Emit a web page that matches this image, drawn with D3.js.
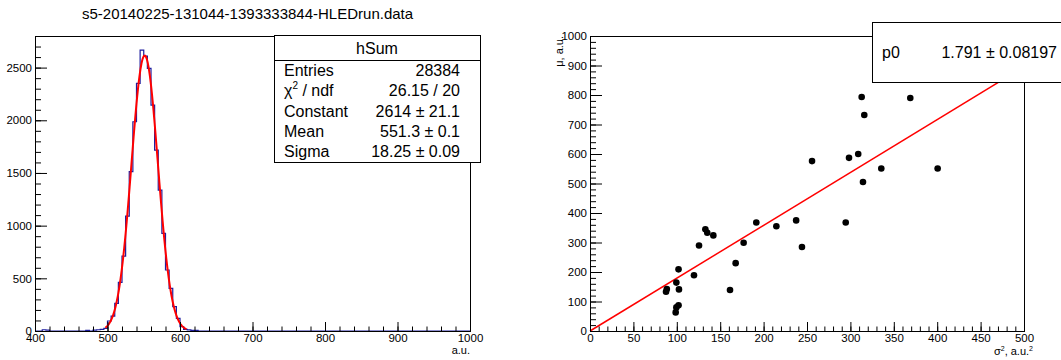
<!DOCTYPE html>
<html><head><meta charset="utf-8">
<script src="https://cdn.jsdelivr.net/npm/d3@7"></script>
<style>
body{margin:0;background:#fff}
svg{display:block}
text{font-family:"Liberation Sans",Arial,Helvetica,sans-serif}
</style>
</head><body>
<svg id="c" width="1061" height="360"></svg>
<script>
// ---------- data ----------
const histTitle = "s5-20140225-131044-1393333844-HLEDrun.data";
const histName = "hSum";
const binLow = 400;
const binWidth = 5;
const counts = [
  0,0,12,8,0,0,0,0,0,0, 0,0,0,0,5,0,8,12,15,25,
  95,142,262,462,711,1091,1512,1986,2350,2666,
  2609,2492,2144,1717,1338,927,579,405,231,120,
  41,16,10,6,5,0,0,0,0,0, 0,0,0,0,0,0,0,0,0,0,
  0,0,0,0,0,0,0,0,0,0, 0,0,0,0,0,0,0,0,0,0,
  0,0,0,0,0,0,0,0,0,0, 0,0,0,0,0,0,0,0,0,0,
  0,0,0,0,0,0,0,0,0,0, 0,0,0,0,0,0,0,0,0,0
];
const fitConstant = 2614, fitMean = 551.3, fitSigma = 18.25;
const fitRange = [497, 609];
const statsLabels = ["Entries", "chi2", "Constant", "Mean", "Sigma"];
const statsValues = ["28384", "26.15 / 20", "2614 \u00b1 21.1", "551.3 \u00b1 0.1", "18.25 \u00b1 0.09"];
const histXTicks = [400, 500, 600, 700, 800, 900, 1000];
const histYTicks = [0, 500, 1000, 1500, 2000, 2500];

const sigma2 = [87.6, 88.5, 98.7, 99.5, 102.0, 99.5, 102.5, 102.0, 119.8, 125.6,
                132.9, 135.1, 142.1, 161.3, 167.8, 177.0, 191.6, 214.7, 237.5, 244.2,
                255.8, 294.6, 298.4, 309.0, 313.0, 316.0, 314.5, 335.6, 369.0, 400.5];
const mu =     [133, 142, 63, 80, 87, 164, 141, 209, 189, 290,
                345, 333, 324, 139, 230, 299, 368, 355, 375, 285,
                576, 368, 587, 600, 793, 732, 505, 551, 790, 551];
const slopeP0 = 1.791;
const slopeText = "1.791 \u00b1 0.08197";
const scatXTicks = [0, 50, 100, 150, 200, 250, 300, 350, 400, 450, 500];
const scatYTicks = [0, 100, 200, 300, 400, 500, 600, 700, 800, 900, 1000];

// ---------- drawing ----------
const svg = d3.select("#c");
svg.append("rect").attr("width",1061).attr("height",360).attr("fill","#fff");
const FONT = "11.5px";

function drawAxes(x, y, xMaj, xMin, yMaj, yMin) {
  const x0 = x.range()[0], y0 = y.range()[0];
  const gx = svg.append("g").attr("transform", `translate(0,${y0})`)
    .call(d3.axisBottom(x).tickValues(xMaj).tickSizeInner(-9).tickSizeOuter(0).tickPadding(3).tickFormat(d3.format("d")));
  const gxm = svg.append("g").attr("transform", `translate(0,${y0})`)
    .call(d3.axisBottom(x).tickValues(xMin).tickSizeInner(-4.5).tickSizeOuter(0).tickFormat(""));
  const gy = svg.append("g").attr("transform", `translate(${x0},0)`)
    .call(d3.axisLeft(y).tickValues(yMaj).tickSizeInner(-12).tickSizeOuter(0).tickPadding(3).tickFormat(d3.format("d")));
  const gym = svg.append("g").attr("transform", `translate(${x0},0)`)
    .call(d3.axisLeft(y).tickValues(yMin).tickSizeInner(-6).tickSizeOuter(0).tickFormat(""));
  [gx, gxm, gy, gym].forEach(g => {
    g.select(".domain").remove();
    g.selectAll("line").attr("stroke", "#000");
    g.selectAll("text").attr("fill", "#000").style("font-size", FONT)
      .style("font-family", '"Liberation Sans",Arial,sans-serif');
  });
}
function frame(x, y) {
  const [a, b] = x.range(), [c, d] = y.range();
  svg.append("rect").attr("x", a + 0.5).attr("y", d + 0.5)
    .attr("width", b - a).attr("height", c - d)
    .attr("fill", "none").attr("stroke", "#000").attr("stroke-width", 1);
}

// ===== Left: histogram =====
const hx = d3.scaleLinear().domain([400, 1000]).range([35, 470]);
const hy = d3.scaleLinear().domain([0, 2800]).range([331, 36]);

svg.append("text").attr("x", 82).attr("y", 19).style("font-size", "15px").attr("fill", "#000").text(histTitle);

const minorRange = (a, b, s) => d3.range(a, b + 1e-9, s);
const histPts = counts.map((c, i) => [binLow + i * binWidth, c]);
histPts.push([binLow + counts.length * binWidth, counts[counts.length - 1]]);
svg.append("path")
  .attr("d", d3.line().x(d => hx(d[0])).y(d => hy(d[1])).curve(d3.curveStepAfter)(histPts))
  .attr("fill", "none").attr("stroke", "#1c1c9e").attr("stroke-width", 1.2);

const fitXs = d3.range(fitRange[0], fitRange[1] + 0.01, 0.5);
svg.append("path")
  .attr("d", d3.line().x(v => hx(v)).y(v => hy(fitConstant * Math.exp(-0.5 * ((v - fitMean) / fitSigma) ** 2)))(fitXs))
  .attr("fill", "none").attr("stroke", "#ff0000").attr("stroke-width", 2);

drawAxes(hx, hy, histXTicks, minorRange(400, 1000, 20), histYTicks, minorRange(0, 2800, 100));
frame(hx, hy);
svg.append("text").attr("x", 470).attr("y", 354).attr("text-anchor", "end")
  .style("font-size", "11px").attr("fill", "#000").text("a.u.");

// stats box
const sb = {x: 274, y: 35, w: 206, h: 127, head: 25};
svg.append("rect").attr("x", sb.x + 0.5).attr("y", sb.y + 0.5).attr("width", sb.w).attr("height", sb.h)
  .attr("fill", "#fff").attr("stroke", "#000");
svg.append("line").attr("x1", sb.x).attr("x2", sb.x + sb.w).attr("y1", sb.y + sb.head + 0.5).attr("y2", sb.y + sb.head + 0.5).attr("stroke", "#000");
svg.append("text").attr("x", sb.x + 103).attr("y", sb.y + 19).attr("text-anchor", "middle")
  .style("font-size", "16px").attr("fill", "#000").text(histName);
const rowH = (sb.h - sb.head) / statsLabels.length;
statsLabels.forEach((lab, i) => {
  const yy = sb.y + sb.head + rowH * (i + 0.5) + 5.5;
  const t = svg.append("text").attr("x", sb.x + 10).attr("y", yy).style("font-size", "16px").attr("fill", "#000");
  if (lab === "chi2") {
    t.append("tspan").text("\u03c7");
    t.append("tspan").attr("dy", -7).style("font-size", "10px").text("2");
    t.append("tspan").attr("dy", 7).text(" / ndf");
  } else t.text(lab);
  svg.append("text").attr("x", sb.x + 186).attr("y", yy).attr("text-anchor", "end")
    .style("font-size", "16px").attr("fill", "#000").text(statsValues[i]);
});

// ===== Right: scatter =====
const sx = d3.scaleLinear().domain([0, 500]).range([590, 1024]);
const sy = d3.scaleLinear().domain([0, 1000]).range([331, 36]);

svg.append("line")
  .attr("x1", sx(0)).attr("y1", sy(0)).attr("x2", sx(500)).attr("y2", sy(slopeP0 * 500))
  .attr("stroke", "#ff0000").attr("stroke-width", 1.5);
svg.append("g").selectAll("circle").data(sigma2).join("circle")
  .attr("cx", (d) => sx(d)).attr("cy", (d, i) => sy(mu[i])).attr("r", 3.3).attr("fill", "#000");

drawAxes(sx, sy, scatXTicks, minorRange(0, 500, 10), scatYTicks, minorRange(0, 1000, 20));
frame(sx, sy);

const xl = svg.append("text").attr("x", 1033).attr("y", 355).attr("text-anchor", "end")
  .style("font-size", "11px").attr("fill", "#000");
xl.append("tspan").text("\u03c3");
xl.append("tspan").attr("dy", -4).style("font-size", "7px").text("2");
xl.append("tspan").attr("dy", 4).text(", a.u.");
xl.append("tspan").attr("dy", -4).style("font-size", "7px").text("2");
svg.append("text").attr("transform", "translate(563,36) rotate(-90)").attr("text-anchor", "end")
  .style("font-size", "11px").attr("fill", "#000").text("\u03bc, a.u.");

// fit box
const fb = {x: 872, y: 22, w: 200, h: 60};
svg.append("rect").attr("x", fb.x + 0.5).attr("y", fb.y + 0.5).attr("width", fb.w).attr("height", fb.h)
  .attr("fill", "#fff").attr("stroke", "#000");
svg.append("text").attr("x", fb.x + 10).attr("y", 58).style("font-size", "16px").attr("fill", "#000").text("p0");
svg.append("text").attr("x", 1057).attr("y", 58).attr("text-anchor", "end")
  .style("font-size", "16px").attr("fill", "#000").text(slopeText);
</script>
</body></html>
